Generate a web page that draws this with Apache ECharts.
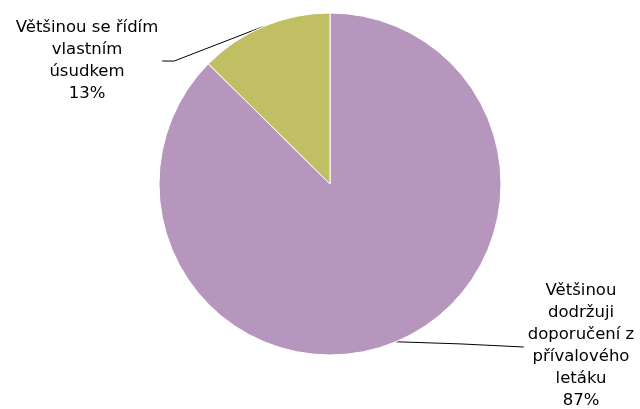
<!DOCTYPE html>
<html>
<head>
<meta charset="utf-8">
<script src="https://cdn.jsdelivr.net/npm/echarts@6/dist/echarts.min.js"></script>
<style>
html,body{margin:0;padding:0;background:#fff;}
#pie_main{width:640px;height:409px;}
</style>
</head>
<body>
<div id="pie_main"></div>
<script>
// kategorie a podíly (v %)
var categories = [
    'Většinou\ndodržuji\ndoporučení z\npřívalového\nletáku',
    'Většinou se řídím\nvlastním\núsudkem'
];
var shares = [87.4, 12.6];
var sliceColors = ['#b796be', '#c0bf63'];

// kde mají být popisky (střed textu)
var labelSpots = [
    {x: 581, y: 346, side: 'left'},
    {x: 87, y: 61, side: 'right'}
];

var pieChart = echarts.init(document.getElementById('pie_main'));

var data = [];
for (var i = 0; i < categories.length; i++) {
    data.push({value: shares[i], name: categories[i], itemStyle: {color: sliceColors[i]}});
}

var option = {
    animation: false,
    series: [{
        type: 'pie',
        center: [330, 184],
        radius: 171,
        startAngle: 90,
        clockwise: true,
        silent: true,
        itemStyle: {
            borderColor: '#fff',
            borderWidth: 1
        },
        label: {
            show: true,
            position: 'outside',
            formatter: function (p) {
                return p.name + '\n' + Math.round(p.value) + '%';
            },
            fontFamily: 'DejaVu Sans, Verdana, sans-serif',
            fontSize: 16.5,
            lineHeight: 22,
            color: '#000',
            align: 'center'
        },
        labelLine: {
            show: true,
            length: 20,
            length2: 20,
            lineStyle: {color: '#000', width: 1}
        },
        labelLayout: function (params) {
            var spot = labelSpots[params.dataIndex];
            var start = params.labelLinePoints[0];
            var w = params.labelRect.width;
            var pts;
            if (spot.side === 'right') {
                var ex = spot.x + w / 2 + 4;
                pts = [start, [ex + 12, spot.y], [ex, spot.y]];
            } else {
                var lx = spot.x - w / 2 - 4;
                pts = [start, [(start[0] + lx) / 2, (start[1] + spot.y) / 2], [lx, spot.y + 1]];
            }
            return {
                x: spot.x,
                y: spot.y,
                align: 'center',
                verticalAlign: 'middle',
                labelLinePoints: pts
            };
        },
        data: data
    }]
};
pieChart.setOption(option);
window.onresize = pieChart.resize;
</script>
</body>
</html>
